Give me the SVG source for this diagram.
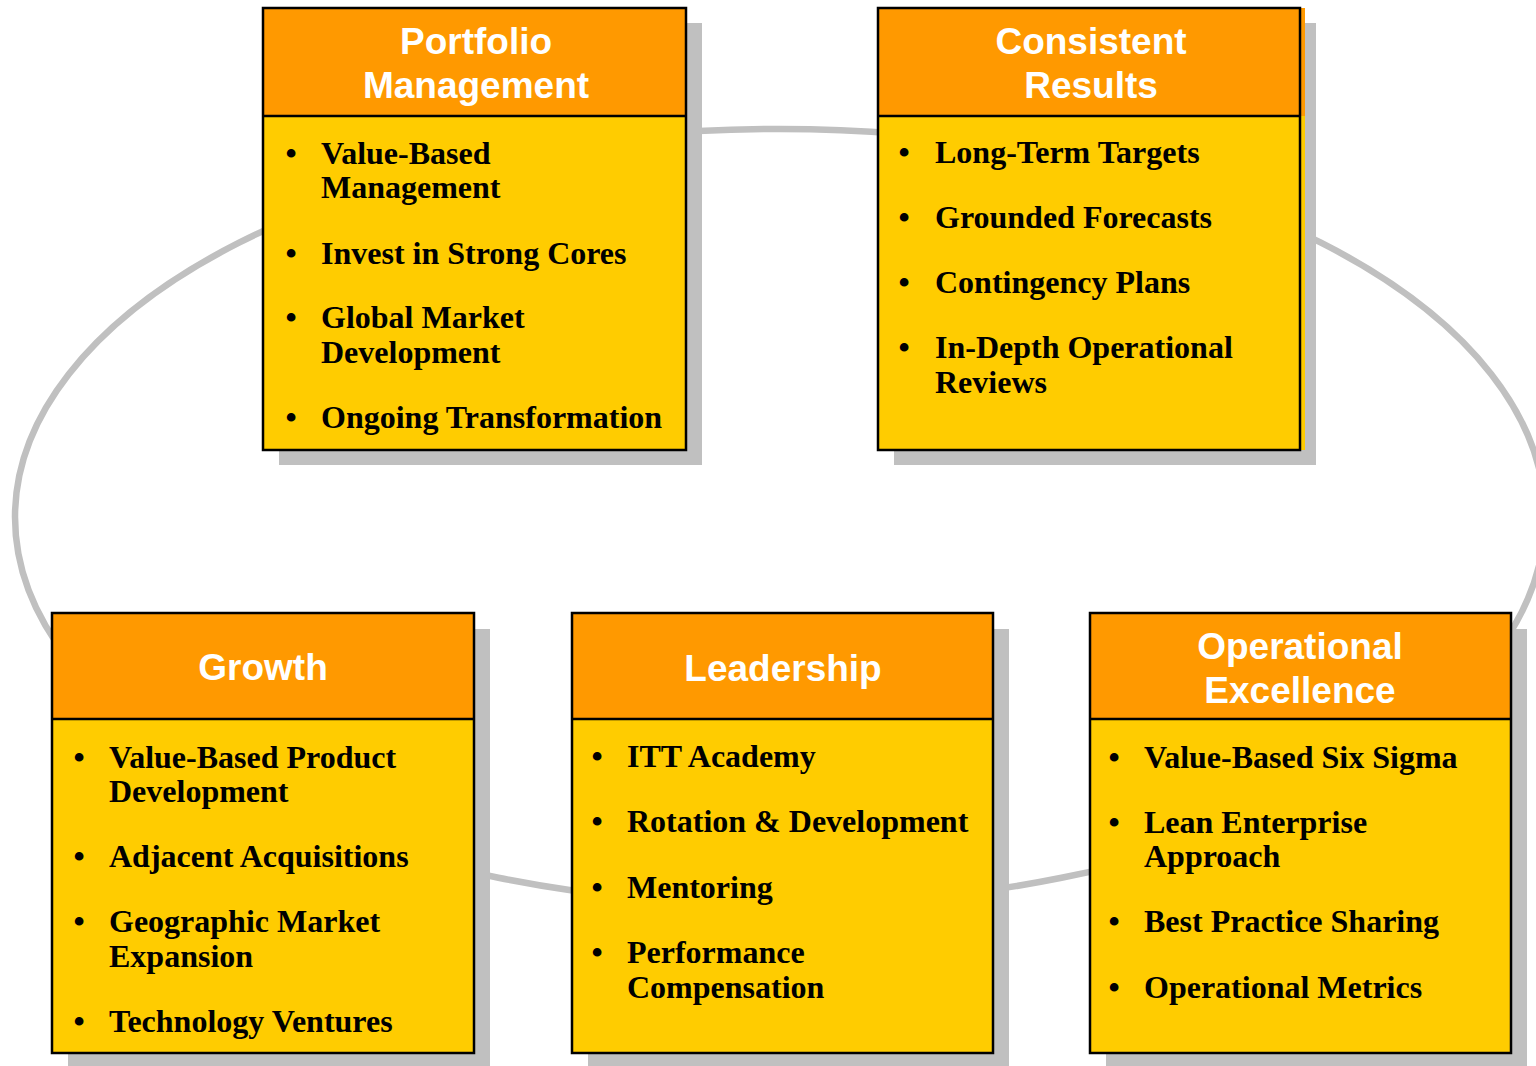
<svg xmlns="http://www.w3.org/2000/svg" width="1536" height="1066" viewBox="0 0 1536 1066">
  <style>
    .shadow { fill: #C0C0C0; }
    .head { fill: #FF9900; }
    .body { fill: #FFCC00; }
    .frame { fill: none; stroke: #000; stroke-width: 2.5; }
    .rule { stroke: #000; stroke-width: 2.5; }
    .title { font-family: "Liberation Sans", Arial, sans-serif; font-weight: bold; font-size: 37px; fill: #fff; text-anchor: middle; }
    .item { font-family: "Liberation Serif", "Times New Roman", serif; font-weight: bold; font-size: 32px; fill: #000; }
    .dot { font-family: "Liberation Serif", "Times New Roman", serif; font-weight: bold; font-size: 32px; fill: #000; text-anchor: middle; }
    .ring { fill: none; stroke: #C0C0C0; stroke-width: 6.5; }
  </style>

  <!-- ring linking the five pillars, drawn beneath the boxes -->
  <g id="connectors">
    <ellipse class="ring" cx="780" cy="517" rx="765" ry="388"/>
  </g>

  <!-- Portfolio Management -->
  <g id="portfolio-management">
    <rect class="shadow" x="279" y="23" width="423" height="442"/>
    <rect class="head" x="263" y="8" width="423" height="108"/>
    <rect class="body" x="263" y="116" width="423" height="334"/>
    <line class="rule" x1="263" y1="116" x2="686" y2="116"/>
    <rect class="frame" x="263" y="8" width="423" height="442"/>
    <text class="title" x="476" y="54">Portfolio</text>
    <text class="title" x="476" y="98">Management</text>
    <text class="dot" x="291" y="164">•</text>
    <text class="item" x="321" y="164">Value-Based</text>
    <text class="item" x="321" y="198">Management</text>
    <text class="dot" x="291" y="264">•</text>
    <text class="item" x="321" y="264">Invest in Strong Cores</text>
    <text class="dot" x="291" y="328">•</text>
    <text class="item" x="321" y="328">Global Market</text>
    <text class="item" x="321" y="363">Development</text>
    <text class="dot" x="291" y="428">•</text>
    <text class="item" x="321" y="428">Ongoing Transformation</text>
  </g>

  <!-- Consistent Results -->
  <g id="consistent-results">
    <rect class="shadow" x="894" y="23" width="422" height="442"/>
    <rect class="head" x="878" y="8" width="427" height="108"/>
    <rect class="body" x="878" y="116" width="427" height="334"/>
    <line class="rule" x1="878" y1="116" x2="1300" y2="116"/>
    <rect class="frame" x="878" y="8" width="422" height="442"/>
    <text class="title" x="1091" y="54">Consistent</text>
    <text class="title" x="1091" y="98">Results</text>
    <text class="dot" x="904" y="163">•</text>
    <text class="item" x="935" y="163">Long-Term Targets</text>
    <text class="dot" x="904" y="228">•</text>
    <text class="item" x="935" y="228">Grounded Forecasts</text>
    <text class="dot" x="904" y="293">•</text>
    <text class="item" x="935" y="293">Contingency Plans</text>
    <text class="dot" x="904" y="358">•</text>
    <text class="item" x="935" y="358">In-Depth Operational</text>
    <text class="item" x="935" y="393">Reviews</text>
  </g>

  <!-- Growth -->
  <g id="growth">
    <rect class="shadow" x="68" y="629" width="422" height="440"/>
    <rect class="head" x="52" y="613" width="422" height="106"/>
    <rect class="body" x="52" y="719" width="422" height="334"/>
    <line class="rule" x1="52" y1="719" x2="474" y2="719"/>
    <rect class="frame" x="52" y="613" width="422" height="440"/>
    <text class="title" x="263" y="680">Growth</text>
    <text class="dot" x="79" y="768">•</text>
    <text class="item" x="109" y="768">Value-Based Product</text>
    <text class="item" x="109" y="802">Development</text>
    <text class="dot" x="79" y="867">•</text>
    <text class="item" x="109" y="867">Adjacent Acquisitions</text>
    <text class="dot" x="79" y="932">•</text>
    <text class="item" x="109" y="932">Geographic Market</text>
    <text class="item" x="109" y="967">Expansion</text>
    <text class="dot" x="79" y="1032">•</text>
    <text class="item" x="109" y="1032">Technology Ventures</text>
  </g>

  <!-- Leadership -->
  <g id="leadership">
    <rect class="shadow" x="588" y="629" width="421" height="440"/>
    <rect class="head" x="572" y="613" width="421" height="106"/>
    <rect class="body" x="572" y="719" width="421" height="334"/>
    <line class="rule" x1="572" y1="719" x2="993" y2="719"/>
    <rect class="frame" x="572" y="613" width="421" height="440"/>
    <text class="title" x="783" y="681">Leadership</text>
    <text class="dot" x="597" y="767">•</text>
    <text class="item" x="627" y="767">ITT Academy</text>
    <text class="dot" x="597" y="832">•</text>
    <text class="item" x="627" y="832">Rotation &amp; Development</text>
    <text class="dot" x="597" y="898">•</text>
    <text class="item" x="627" y="898">Mentoring</text>
    <text class="dot" x="597" y="963">•</text>
    <text class="item" x="627" y="963">Performance</text>
    <text class="item" x="627" y="998">Compensation</text>
  </g>

  <!-- Operational Excellence -->
  <g id="operational-excellence">
    <rect class="shadow" x="1106" y="629" width="421" height="440"/>
    <rect class="head" x="1090" y="613" width="421" height="106"/>
    <rect class="body" x="1090" y="719" width="421" height="334"/>
    <line class="rule" x1="1090" y1="719" x2="1511" y2="719"/>
    <rect class="frame" x="1090" y="613" width="421" height="440"/>
    <text class="title" x="1300" y="659">Operational</text>
    <text class="title" x="1300" y="703">Excellence</text>
    <text class="dot" x="1114" y="768">•</text>
    <text class="item" x="1144" y="768">Value-Based Six Sigma</text>
    <text class="dot" x="1114" y="833">•</text>
    <text class="item" x="1144" y="833">Lean Enterprise</text>
    <text class="item" x="1144" y="867">Approach</text>
    <text class="dot" x="1114" y="932">•</text>
    <text class="item" x="1144" y="932">Best Practice Sharing</text>
    <text class="dot" x="1114" y="998">•</text>
    <text class="item" x="1144" y="998">Operational Metrics</text>
  </g>
</svg>
